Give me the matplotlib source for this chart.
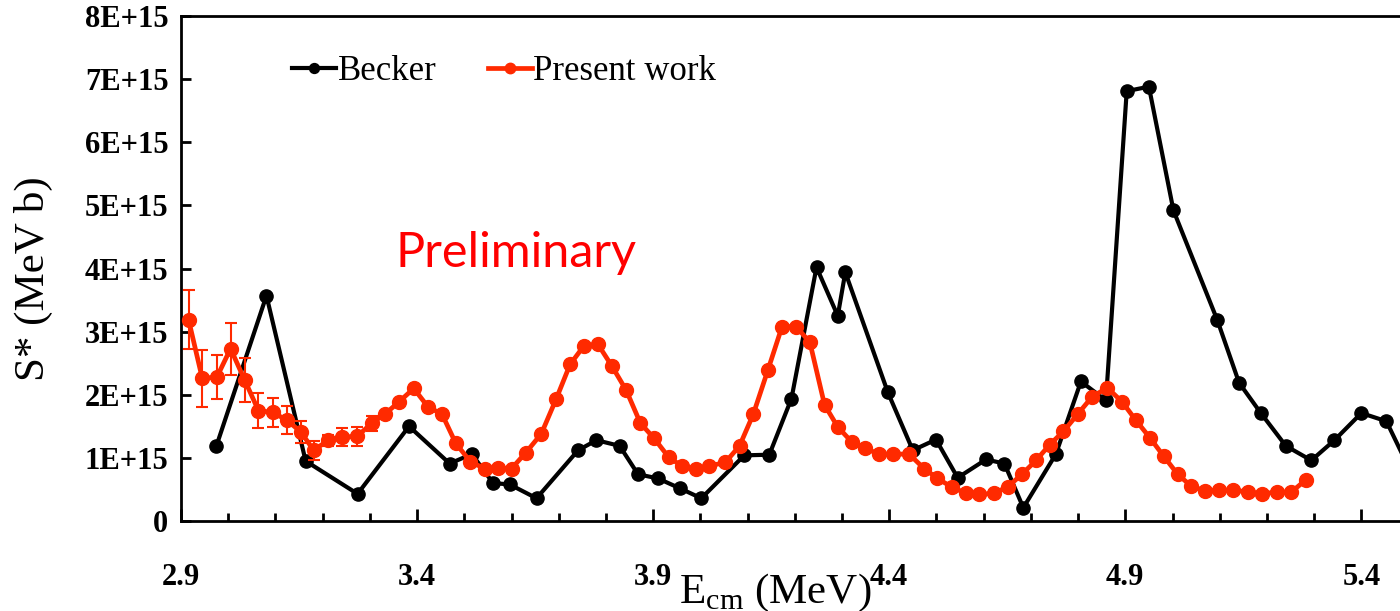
import matplotlib
matplotlib.use("Agg")
import matplotlib.pyplot as plt
import numpy as np
from matplotlib.ticker import FuncFormatter, MultipleLocator

# Becker data (E_cm in MeV, S* in units of 1E+15 MeV b)
becker_e = [2.975, 3.081, 3.164, 3.274, 3.383, 3.469, 3.516, 3.561, 3.596, 3.653,
            3.741, 3.780, 3.829, 3.868, 3.910, 3.956, 4.002, 4.093, 4.146, 4.193,
            4.246, 4.291, 4.307, 4.397, 4.450, 4.499, 4.545, 4.605, 4.644, 4.684,
            4.753, 4.806, 4.859, 4.903, 4.950, 5.002, 5.095, 5.141, 5.187, 5.240,
            5.294, 5.343, 5.400, 5.453, 5.500]
becker_s = [1.19, 3.57, 0.95, 0.43, 1.50, 0.91, 1.06, 0.60, 0.58, 0.36,
            1.12, 1.28, 1.19, 0.74, 0.675, 0.52, 0.36, 1.04, 1.05, 1.94,
            4.02, 3.25, 3.94, 2.04, 1.12, 1.29, 0.685, 0.975, 0.91, 0.21,
            1.06, 2.21, 1.91, 6.81, 6.88, 4.92, 3.18, 2.19, 1.71, 1.19,
            0.96, 1.28, 1.71, 1.58, 0.85]

# present work
present_e = [2.916, 2.945, 2.976, 3.005, 3.035, 3.064, 3.094, 3.124, 3.154, 3.181,
             3.212, 3.242, 3.273, 3.304, 3.333, 3.362, 3.393, 3.423, 3.453, 3.482,
             3.513, 3.543, 3.571, 3.600, 3.630, 3.663, 3.695, 3.724, 3.753, 3.783,
             3.813, 3.843, 3.873, 3.902, 3.933, 3.961, 3.991, 4.019, 4.053, 4.083,
             4.112, 4.143, 4.173, 4.203, 4.232, 4.263, 4.291, 4.321, 4.349, 4.379,
             4.409, 4.442, 4.474, 4.502, 4.532, 4.562, 4.591, 4.621, 4.651, 4.681,
             4.711, 4.740, 4.769, 4.800, 4.830, 4.862, 4.893, 4.922, 4.952, 4.981,
             5.011, 5.040, 5.069, 5.099, 5.129, 5.159, 5.189, 5.222, 5.252, 5.282]
present_s = [3.19, 2.26, 2.28, 2.73, 2.23, 1.75, 1.72, 1.60, 1.41, 1.12,
             1.28, 1.33, 1.34, 1.55, 1.70, 1.89, 2.10, 1.81, 1.69, 1.23,
             0.94, 0.83, 0.84, 0.83, 1.08, 1.38, 1.94, 2.48, 2.77, 2.80,
             2.45, 2.07, 1.55, 1.31, 1.01, 0.87, 0.82, 0.87, 0.93, 1.19,
             1.69, 2.39, 3.08, 3.08, 2.83, 1.84, 1.49, 1.25, 1.15, 1.06,
             1.06, 1.06, 0.83, 0.675, 0.54, 0.44, 0.42, 0.44, 0.54, 0.74,
             0.96, 1.21, 1.42, 1.70, 1.97, 2.11, 1.89, 1.60, 1.32, 1.03,
             0.74, 0.55, 0.48, 0.49, 0.49, 0.46, 0.43, 0.46, 0.46, 0.65]
# errors only shown for the low energy points
present_err = [0.47, 0.45, 0.35, 0.41, 0.35, 0.28, 0.23, 0.22, 0.18, 0.15,
               0.09, 0.14, 0.15, 0.12]

SCALE = 1e15
RED = '#ff2a00'

plt.rcParams['font.family'] = 'Liberation Serif'
plt.rcParams['mathtext.fontset'] = 'custom'
plt.rcParams['mathtext.rm'] = 'Liberation Serif'


def sci_label(v, pos):
    if v == 0:
        return '0'
    return '%dE+15' % round(v / SCALE)


def displayGraphic():
    fig = plt.figure(figsize=(14, 6.11), dpi=100)
    # axes runs past the right edge of the figure
    ax = fig.add_axes([181 / 1400, 90 / 611, 1407 / 1400, 505 / 611])

    be = np.array(becker_e)
    bs = np.array(becker_s) * SCALE
    pe = np.array(present_e)
    ps = np.array(present_s) * SCALE
    perr = np.array(present_err) * SCALE
    n = len(perr)

    ax.plot(be, bs, '-o', color='black', lw=3.0, ms=9.5, label='Becker', zorder=3)
    ax.errorbar(pe[:n], ps[:n], yerr=perr, fmt='none', ecolor=RED,
                elinewidth=1.5, capsize=4, capthick=1.5, zorder=4)
    ax.plot(pe, ps, '-o', color=RED, lw=3.4, ms=10, label='Present work', zorder=5)

    ax.set_xlim(2.9, 5.88)
    ax.set_ylim(0, 8e15)
    ax.xaxis.set_major_locator(MultipleLocator(0.5, offset=0.4))
    ax.xaxis.set_minor_locator(MultipleLocator(0.1))
    ax.xaxis.set_major_formatter(FuncFormatter(lambda v, p: '%.1f' % v))
    ax.yaxis.set_major_locator(MultipleLocator(1e15))
    ax.yaxis.set_major_formatter(FuncFormatter(sci_label))

    ax.tick_params(axis='both', which='both', direction='in', width=2)
    ax.tick_params(axis='x', which='major', length=9, pad=30)
    ax.tick_params(axis='x', which='minor', length=6)
    ax.tick_params(axis='y', which='major', length=7, pad=9)
    for lbl in ax.get_xticklabels() + ax.get_yticklabels():
        lbl.set_fontsize(22)
        lbl.set_fontweight('bold')
    for side in ['left', 'bottom', 'top']:
        ax.spines[side].set_linewidth(2)
    ax.spines['right'].set_visible(False)

    fig.text(33 / 1400, 1 - 279 / 611, 'S* (MeV b)', rotation=90,
             ha='center', va='center', fontsize=31)
    fig.text(775 / 1400, 1 - 603 / 611, r'E$_{\mathrm{cm}}$ (MeV)',
             ha='center', va='baseline', fontsize=31)
    fig.text(395 / 1400, 1 - 267 / 611, 'Preliminary', color='red',
             family='Lato', fontsize=35, ha='left', va='baseline')

    fig.legend(loc='center left', bbox_to_anchor=(275 / 1400, 1 - 72 / 611),
               ncol=2, frameon=False, fontsize=25, borderpad=0,
               handlelength=1.25, handletextpad=0.05, columnspacing=1.5,
               markerscale=0.75)

    fig.savefig('out.png', dpi=100)


def startApp():
    displayGraphic()


if __name__ == "__main__":
    startApp()
